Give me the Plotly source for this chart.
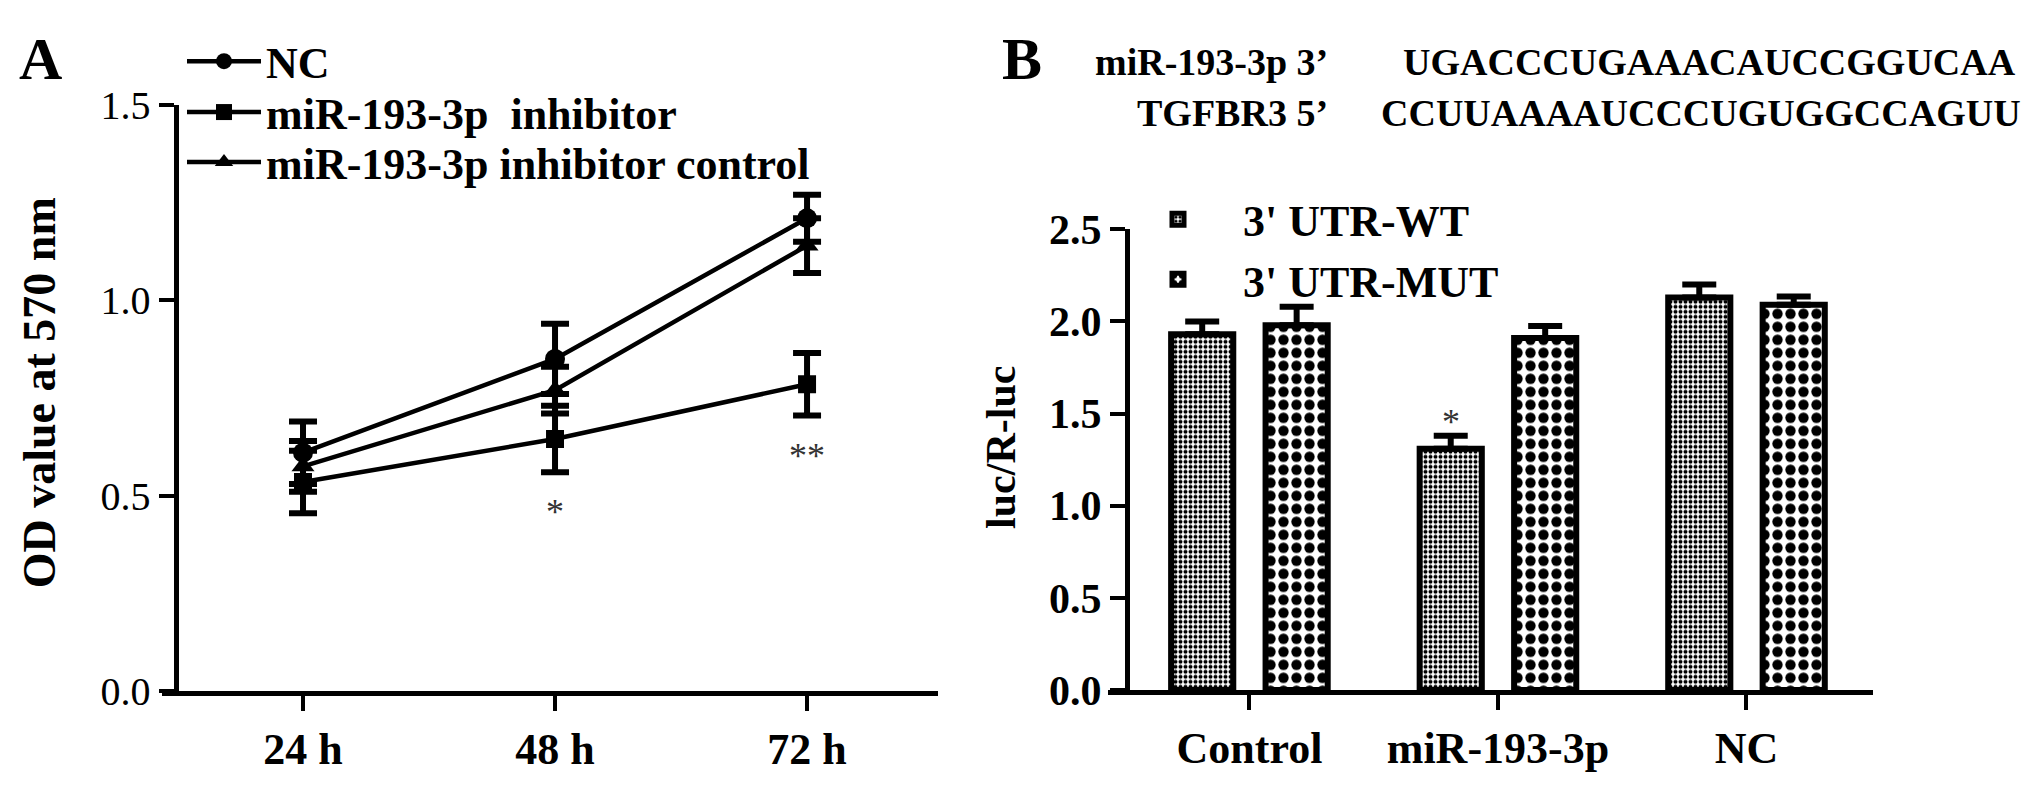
import plotly.graph_objects as go

W, H = 2043, 797
FONT = "Liberation Serif, Times New Roman, serif"

# ---------------- Panel A data ----------------
time_labels = ["24 h", "48 h", "72 h"]
nc_vals = [0.61, 0.85, 1.21]
nc_err = [0.08, 0.09, 0.06]
inh_vals = [0.535, 0.645, 0.785]
inh_err = [0.08, 0.085, 0.08]
ctrl_vals = [0.575, 0.77, 1.14]
ctrl_err = [0.065, 0.06, 0.07]
sig_a = ["", "*", "**"]
a_yticks = [0.0, 0.5, 1.0, 1.5]

# ---------------- Panel B data ----------------
groups = ["Control", "miR-193-3p", "NC"]
wt_vals = [1.93, 1.31, 2.13]
wt_err = [0.07, 0.07, 0.07]
mut_vals = [1.98, 1.91, 2.09]
mut_err = [0.10, 0.065, 0.045]
sig_b = ["", "*", ""]
b_yticks = [0.0, 0.5, 1.0, 1.5, 2.0, 2.5]

seq_names = ["miR-193-3p 3\u2019", "TGFBR3 5\u2019"]
seq_texts = ["UGACCCUGAAACAUCCGGUCAA", "CCUUAAAAUCCCUGUGGCCAGUU"]

BARGAP = 0.24
BARGROUPGAP = 0.342


def px_x(p):
    return p / W


def px_y(p):
    return 1 - p / H


fig = go.Figure()

series_a = [
    ("NC", nc_vals, nc_err, "circle", 20, "legend"),
    ("miR-193-3p  inhibitor", inh_vals, inh_err, "square", 18, "legend3"),
    ("miR-193-3p inhibitor control", ctrl_vals, ctrl_err, "triangle-up", 20, "legend4"),
]
for name, vals, errs, sym, msize, leg in series_a:
    fig.add_trace(go.Scatter(
        x=time_labels, y=vals, name=name, mode="lines+markers",
        line=dict(color="black", width=4.5),
        marker=dict(symbol=sym, size=msize, color="black"),
        error_y=dict(type="data", array=errs, color="black", thickness=6, width=14),
        xaxis="x", yaxis="y", legend=leg, showlegend=True,
    ))

bar_series = [
    ("3' UTR-WT", wt_vals, wt_err, dict(shape=".", size=5, solidity=0.5)),
    ("3' UTR-MUT", mut_vals, mut_err, dict(shape=".", size=13, solidity=0.5)),
]
for name, vals, errs, pat in bar_series:
    fig.add_trace(go.Bar(
        x=groups, y=vals, name=name,
        marker=dict(color="white", line=dict(color="black", width=6),
                    pattern=dict(fgcolor="black", bgcolor="white", fillmode="replace", **pat)),
        error_y=dict(type="data", array=errs, arrayminus=[0] * len(errs), symmetric=False,
                     color="black", thickness=6, width=17),
        xaxis="x2", yaxis="y2", legend="legend2", showlegend=True,
    ))

axis_common = dict(showline=True, linecolor="black", linewidth=5, ticks="outside",
                   ticklen=15, tickwidth=4, tickcolor="black", showgrid=False,
                   zeroline=False, fixedrange=True)

legend_a_common = dict(xanchor="left", yanchor="middle", font=dict(size=44, weight="bold"),
                       itemwidth=74, bgcolor="rgba(0,0,0,0)", tracegroupgap=0, visible=True)

fig.update_layout(
    width=W, height=H, autosize=False, showlegend=True,
    margin=dict(l=0, r=0, t=0, b=0, pad=0),
    paper_bgcolor="white", plot_bgcolor="white",
    font=dict(family=FONT, color="black"),
    bargap=BARGAP, bargroupgap=BARGROUPGAP, barmode="group",
    xaxis=dict(domain=[px_x(161.5), px_x(937.6)], range=[-0.5615, 2.518], type="category",
               anchor="y", tickfont=dict(size=44, weight="bold"), **axis_common),
    yaxis=dict(domain=[px_y(710), px_y(88)], range=[0, 1.5], anchor="free",
               position=px_x(175.5), tickvals=a_yticks, tickformat=".1f",
               tickfont=dict(size=40), **axis_common),
    xaxis2=dict(domain=[px_x(1108), px_x(1873)], range=[-0.569, 2.509], type="category",
                anchor="y2", tickfont=dict(size=44, weight="bold"), **axis_common),
    yaxis2=dict(domain=[px_y(709), px_y(220)], range=[0, 2.5], anchor="free",
                position=px_x(1127), tickvals=b_yticks, tickformat=".1f",
                tickfont=dict(size=42, weight="bold"), **axis_common),
    legend=dict(x=px_x(182), y=px_y(42), **legend_a_common),
    legend3=dict(x=px_x(182), y=px_y(96), **legend_a_common),
    legend4=dict(x=px_x(182), y=px_y(149), **legend_a_common),
    legend2=dict(x=px_x(1113), y=px_y(172), xanchor="left", yanchor="top",
                 font=dict(size=44, weight="bold"), itemwidth=120,
                 bgcolor="rgba(0,0,0,0)", tracegroupgap=0, visible=True),
)

ann = []
# panel letters
for letter, lx in (("A", 40), ("B", 1022)):
    ann.append(dict(text=letter, x=px_x(lx), y=px_y(39), xref="paper", yref="paper",
                    showarrow=False, font=dict(size=60, weight="bold"),
                    xanchor="center", yanchor="middle"))
# axis titles
ann.append(dict(text="OD value at 570 nm", x=px_x(39), y=px_y(394), xref="paper", yref="paper",
                showarrow=False, textangle=-90, font=dict(size=46, weight="bold"),
                xanchor="center", yanchor="middle"))
ann.append(dict(text="luc/R-luc", x=px_x(1001), y=px_y(452), xref="paper", yref="paper",
                showarrow=False, textangle=-90, font=dict(size=42, weight="bold"),
                xanchor="center", yanchor="middle"))
# sequences
row_y = [42, 97]
seq_x = [1401, 1379]
for i in range(len(seq_names)):
    ann.append(dict(text=seq_names[i], x=px_x(1330), y=px_y(row_y[i]), xref="paper", yref="paper",
                    showarrow=False, font=dict(size=38, weight="bold"),
                    xanchor="right", yanchor="middle"))
    ann.append(dict(text=seq_texts[i], x=px_x(seq_x[i]), y=px_y(row_y[i]), xref="paper", yref="paper",
                    showarrow=False, font=dict(size=38, weight="bold"),
                    xanchor="left", yanchor="middle"))
# significance marks, panel A (below the inhibitor error bars)
for i, s in enumerate(sig_a):
    if s:
        ann.append(dict(text=s, x=time_labels[i], y=inh_vals[i] - inh_err[i], xref="x", yref="y",
                        showarrow=False, font=dict(size=36, color="#333333"),
                        xanchor="center", yanchor="middle", yshift=-40))
# significance marks, panel B (above WT bar error)
slot = (1 - BARGAP) / 2
for i, s in enumerate(sig_b):
    if s:
        ann.append(dict(text=s, x=i - slot / 2, y=wt_vals[i] + wt_err[i], xref="x2", yref="y2",
                        showarrow=False, font=dict(size=36, color="#333333"),
                        xanchor="center", yanchor="middle", yshift=14))
fig.update_layout(annotations=ann)

fig.write_html("out.html", config={"displayModeBar": False},
               post_script="document.body.style.margin='0';document.body.style.overflow='hidden';")
